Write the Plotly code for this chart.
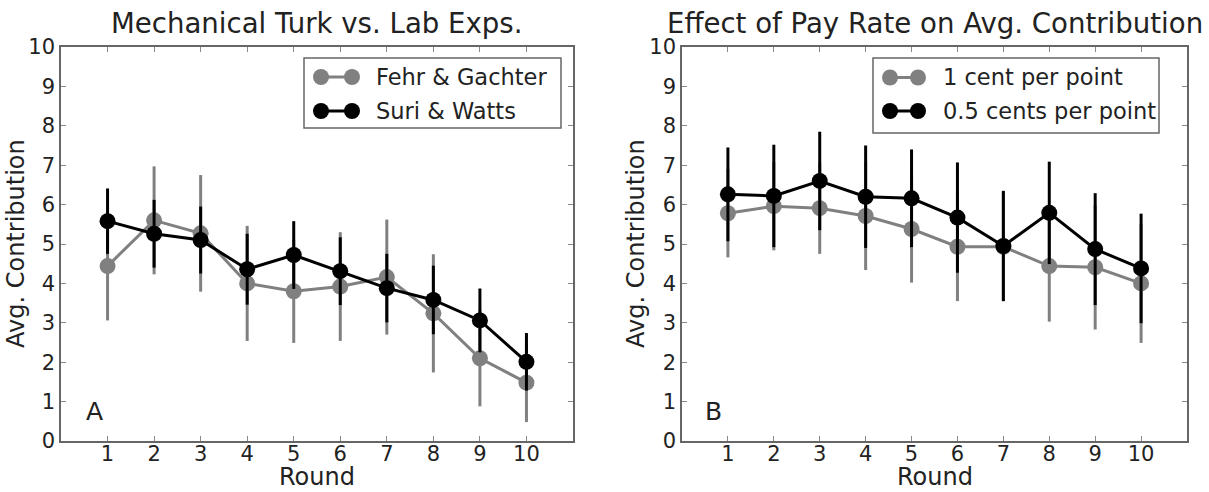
import plotly.graph_objects as go

rounds = [1, 2, 3, 4, 5, 6, 7, 8, 9, 10]

# Panel A
fehr_mean = [4.44, 5.60, 5.27, 4.00, 3.80, 3.92, 4.16, 3.24, 2.10, 1.48]
fehr_err = [1.38, 1.37, 1.48, 1.46, 1.31, 1.38, 1.46, 1.50, 1.22, 1.00]
suri_mean = [5.58, 5.26, 5.10, 4.36, 4.72, 4.31, 3.88, 3.58, 3.06, 2.01]
suri_err = [0.83, 0.86, 0.85, 0.90, 0.86, 0.86, 0.87, 0.87, 0.81, 0.73]

# Panel B
one_cent_mean = [5.78, 5.96, 5.91, 5.71, 5.38, 4.93, 4.93, 4.44, 4.41, 4.00]
one_cent_err = [1.12, 1.12, 1.16, 1.37, 1.36, 1.38, 1.38, 1.41, 1.58, 1.51]
half_cent_mean = [6.26, 6.22, 6.60, 6.20, 6.16, 5.67, 4.95, 5.79, 4.87, 4.38]
half_cent_err = [1.19, 1.30, 1.25, 1.30, 1.24, 1.40, 1.40, 1.30, 1.42, 1.39]

names_A = ["Fehr & Gachter", "Suri & Watts"]
names_B = ["1 cent per point", "0.5 cents per point"]

GRAY = "#808080"
BLACK = "#000000"
TXT = "#222222"
FONT = "DejaVu Sans"
W, H = 1209, 492


def series(x, y, e, name, color, xa, ya):
    return go.Scatter(
        x=x, y=y, name=name, mode="lines+markers", showlegend=False,
        line=dict(color=color, width=3),
        marker=dict(color=color, size=16, line=dict(color=color, width=0)),
        error_y=dict(type="data", array=e, visible=True, color=color,
                     thickness=3, width=0),
        xaxis=xa, yaxis=ya,
    )


fig = go.Figure()
fig.add_trace(series(rounds, fehr_mean, fehr_err, names_A[0], GRAY, "x", "y"))
fig.add_trace(series(rounds, suri_mean, suri_err, names_A[1], BLACK, "x", "y"))
fig.add_trace(series(rounds, one_cent_mean, one_cent_err, names_B[0], GRAY, "x2", "y2"))
fig.add_trace(series(rounds, half_cent_mean, half_cent_err, names_B[1], BLACK, "x2", "y2"))

yb, yt = (H - 441) / H, (H - 47) / H
dA = [61 / W, 573 / W]
dB = [682 / W, 1187 / W]

axis_common = dict(
    showline=True, linecolor="#666666", linewidth=1.5, mirror="allticks",
    ticks="inside", ticklen=5, tickcolor="#888888", tickwidth=1,
    showgrid=False, zeroline=False, automargin=False,
    tickfont=dict(family=FONT, size=21, color=TXT),
)
xcommon = dict(axis_common, range=[0, 11], tickvals=rounds, ticklabelstandoff=-7)
ycommon = dict(axis_common, range=[0, 10], tickvals=list(range(0, 11)))

shapes = []
annotations = []


def px_x(p):
    return p / W


def px_y(p):
    return (H - p) / H


def add_legend(box, entries):
    # box = (x0, y0, x1, y1) in pixels; entries = [(name, color, yc, cx1, cx2, tx)]
    x0, y0, x1, y1 = box
    shapes.append(dict(type="rect", xref="paper", yref="paper",
                       x0=px_x(x0), x1=px_x(x1), y0=px_y(y1), y1=px_y(y0),
                       line=dict(color="#666666", width=1.5), fillcolor="white", layer="above"))
    for name, color, yc, cx1, cx2, tx in entries:
        shapes.append(dict(type="line", xref="paper", yref="paper",
                           x0=px_x(cx1), x1=px_x(cx2), y0=px_y(yc), y1=px_y(yc),
                           line=dict(color=color, width=3), layer="above"))
        for cx in (cx1, cx2):
            shapes.append(dict(type="circle", xref="paper", yref="paper",
                               xsizemode="pixel", ysizemode="pixel",
                               xanchor=px_x(cx), yanchor=px_y(yc),
                               x0=-8, x1=8, y0=-8, y1=8,
                               line=dict(color=color, width=0), fillcolor=color, layer="above"))
        annotations.append(dict(text=name, xref="paper", yref="paper",
                                x=px_x(tx), y=px_y(yc), xanchor="left", yanchor="middle",
                                showarrow=False, font=dict(family=FONT, size=22.5, color=TXT)))


add_legend((304, 58, 561, 128), [
    (names_A[0], GRAY, 77, 321, 352, 374),
    (names_A[1], BLACK, 111, 321, 352, 374),
])
add_legend((873, 58, 1159, 133), [
    (names_B[0], GRAY, 77.5, 890, 918, 941),
    (names_B[1], BLACK, 111, 890, 918, 941),
])

title_font = dict(family=FONT, size=27.6, color=TXT)
label_font = dict(family=FONT, size=24, color=TXT)
annotations += [
    dict(text="Mechanical Turk vs. Lab Exps.", x=(dA[0] + dA[1]) / 2, y=px_y(23),
         xref="paper", yref="paper", showarrow=False, xanchor="center", yanchor="middle",
         font=title_font),
    dict(text="Effect of Pay Rate on Avg. Contribution", x=(dB[0] + dB[1]) / 2, y=px_y(23),
         xref="paper", yref="paper", showarrow=False, xanchor="center", yanchor="middle",
         font=title_font),
    dict(text="Round", x=(dA[0] + dA[1]) / 2, y=px_y(476.5), xref="paper", yref="paper",
         showarrow=False, xanchor="center", yanchor="middle", font=label_font),
    dict(text="Round", x=(dB[0] + dB[1]) / 2, y=px_y(476.5), xref="paper", yref="paper",
         showarrow=False, xanchor="center", yanchor="middle", font=label_font),
    dict(text="Avg. Contribution", x=px_x(16), y=px_y(244), xref="paper", yref="paper",
         showarrow=False, xanchor="center", yanchor="middle", textangle=-90, font=label_font),
    dict(text="Avg. Contribution", x=px_x(636), y=px_y(244), xref="paper", yref="paper",
         showarrow=False, xanchor="center", yanchor="middle", textangle=-90, font=label_font),
    dict(text="A", x=0.045, y=0.074, xref="x domain", yref="y domain", showarrow=False,
         xanchor="left", yanchor="middle", font=dict(family=FONT, size=25, color=TXT)),
    dict(text="B", x=0.042, y=0.074, xref="x2 domain", yref="y2 domain", showarrow=False,
         xanchor="left", yanchor="middle", font=dict(family=FONT, size=25, color=TXT)),
]

fig.update_layout(
    width=W, height=H,
    margin=dict(l=0, r=0, t=0, b=0),
    paper_bgcolor="white", plot_bgcolor="white",
    font=dict(family=FONT, color=TXT),
    showlegend=False,
    xaxis=dict(xcommon, domain=dA, anchor="y"),
    yaxis=dict(ycommon, domain=[yb, yt], anchor="x"),
    xaxis2=dict(xcommon, domain=dB, anchor="y2"),
    yaxis2=dict(ycommon, domain=[yb, yt], anchor="x2"),
    shapes=shapes,
    annotations=annotations,
)

fig.write_html("out.html")
